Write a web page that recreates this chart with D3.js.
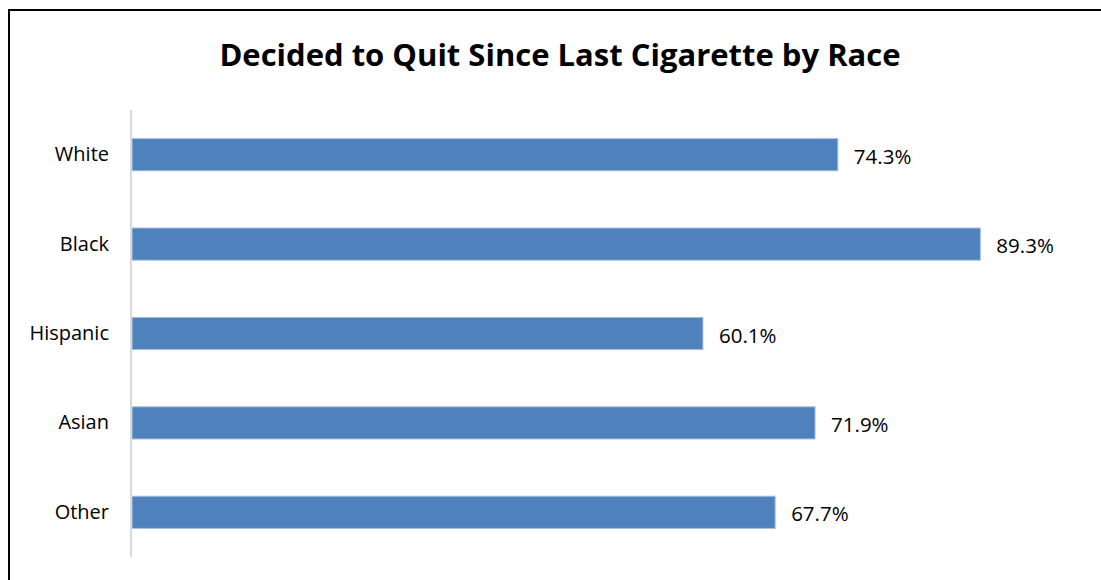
<!DOCTYPE html>
<html>
<head>
<meta charset="utf-8">
<script src="https://cdn.jsdelivr.net/npm/d3@7"></script>
<style>
  body { margin: 0; background: #fff; }
  svg { display: block; font-family: "Open Sans", "Noto Sans", sans-serif; }
</style>
</head>
<body>
<svg width="1101" height="580"></svg>
<script>
const categories = ['White', 'Black', 'Hispanic', 'Asian', 'Other'];
const values = [74.3, 89.3, 60.1, 71.9, 67.7];
const title = 'Decided to Quit Since Last Cigarette by Race';

const svg = d3.select('svg');
const width = +svg.attr('width');
const height = +svg.attr('height');
const margin = { top: 110, right: 19, bottom: 23, left: 132 };
const innerWidth = width - margin.left - margin.right;
const innerHeight = height - margin.top - margin.bottom;

const data = categories.map((c, i) => ({ cat: c, val: values[i] }));

// outer frame, only left and top edges are visible
svg.append('path')
    .attr('d', `M9,${height}V10H${width}`)
    .attr('fill', 'none')
    .attr('stroke', '#000')
    .attr('stroke-width', 2);

svg.append('text')
    .attr('x', 560)
    .attr('y', 66)
    .attr('text-anchor', 'middle')
    .style('font-size', '31px')
    .style('font-weight', 'bold')
    .text(title);

const xScale = d3.scaleLinear()
    .domain([0, 100])
    .range([0, innerWidth]);

const yScale = d3.scaleBand()
    .domain(categories)
    .range([0, innerHeight])
    .paddingInner(0.64)
    .paddingOuter(0.32);

const g = svg.append('g')
    .attr('transform', `translate(${margin.left},${margin.top})`);

g.selectAll('rect').data(data)
    .enter().append('rect')
        .attr('x', 0)
        .attr('y', d => yScale(d.cat))
        .attr('width', d => xScale(d.val))
        .attr('height', yScale.bandwidth())
        .attr('fill', '#4f81bd')
        .attr('stroke', '#a7c0de')
        .attr('stroke-width', 1);

g.selectAll('.value').data(data)
    .enter().append('text')
        .attr('class', 'value')
        .attr('x', d => xScale(d.val) + 16)
        .attr('y', d => yScale(d.cat) + yScale.bandwidth() / 2 + 2)
        .attr('dy', '0.35em')
        .style('font-size', '20.5px')
        .attr('fill', '#000')
        .text(d => d.val.toFixed(1) + '%');

const yAxis = g.append('g')
    .attr('transform', 'translate(-1,0)')
    .call(d3.axisLeft(yScale).tickSize(0).tickPadding(22));
yAxis.select('.domain')
    .attr('stroke', '#d9d9d9')
    .attr('stroke-width', 2)
    .attr('d', `M0,0V${innerHeight}`);
yAxis.selectAll('text')
    .style('font-size', '20px')
    .style('font-family', '"Open Sans", "Noto Sans", sans-serif')
    .attr('fill', '#000');
</script>
</body>
</html>
